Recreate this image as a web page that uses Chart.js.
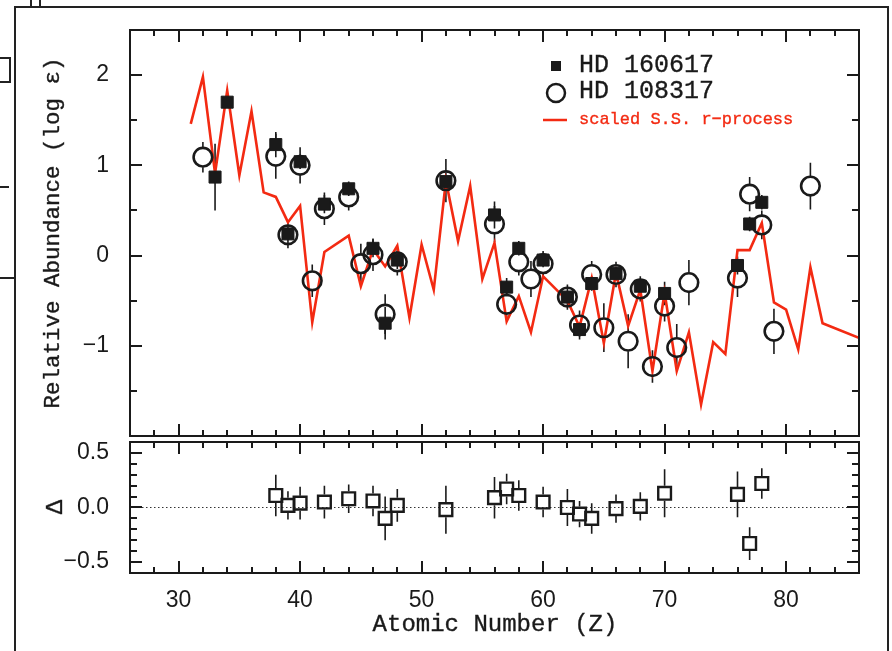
<!DOCTYPE html>
<html>
<head>
<meta charset="utf-8">
<script src="https://cdn.jsdelivr.net/npm/chart.js@4"></script>
<style>
body { margin: 0; background: #fff; width: 892px; height: 651px; overflow: hidden; position: relative; }
.frame { position: absolute; left: 14px; top: 6px; width: 871px; height: 660px; border: 2px solid #222; border-bottom: none; }
.mark { position: absolute; background: #222; }
canvas { position: absolute; left: 0; }
#top { top: 0; }
#bot { top: 440px; }
</style>
</head>
<body>
<div class="frame"></div>
<div class="mark" style="left:30px;top:0;width:2px;height:7px"></div>
<div class="mark" style="left:39px;top:0;width:2px;height:7px"></div>
<div class="mark" style="left:9px;top:57px;width:2px;height:26px"></div>
<div class="mark" style="left:0;top:57px;width:10px;height:2px"></div>
<div class="mark" style="left:0;top:81px;width:10px;height:2px"></div>
<div class="mark" style="left:0;top:186px;width:9px;height:2px"></div>
<div class="mark" style="left:0;top:277px;width:15px;height:2px"></div>
<canvas id="top" width="892" height="440"></canvas>
<canvas id="bot" width="892" height="211"></canvas>
<script>
// scaled solar-system r-process
const ssZ = [31, 32, 33, 34, 35, 36, 37, 38, 39, 40, 41, 42, 44, 45, 46, 47, 48, 49, 50, 51, 52, 53, 54, 55, 56, 57, 58, 59, 60, 62, 63, 64, 65, 66, 67, 68, 69, 70, 71, 72, 73, 74, 75, 76, 77, 78, 79, 80, 81, 82, 83, 90]
const ssLog = [1.46, 1.98, 0.91, 1.83, 0.89, 1.60, 0.70, 0.65, 0.37, 0.55, -0.74, 0.04, 0.22, -0.34, 0.07, -0.12, 0.11, -0.69, 0.12, -0.38, 0.83, 0.16, 0.77, -0.26, 0.14, -0.73, -0.45, -0.85, -0.23, -0.50, -0.79, -0.25, -0.97, -0.19, -0.78, -0.38, -1.28, -0.41, -1.28, -0.85, -1.65, -0.96, -1.09, 0.06, 0.06, 0.36, -0.52, -0.60, -1.04, -0.13, -0.75, -1.13]

// HD 160617
const aZ = [33, 34, 38, 39, 40, 42, 44, 46, 47, 48, 52, 56, 57, 58, 60, 62, 63, 64, 66, 68, 70, 76, 77, 78]
const aLog = [0.87, 1.70, 1.23, 0.24, 1.04, 0.57, 0.74, 0.08, -0.75, -0.05, 0.82, 0.45, -0.35, 0.08, -0.05, -0.46, -0.82, -0.31, -0.20, -0.34, -0.42, -0.11, 0.35, 0.59]
const aErr = [0.37, 0.05, 0.14, 0.10, 0.08, 0.10, 0.08, 0.10, 0.18, 0.10, 0.10, 0.15, 0.10, 0.08, 0.08, 0.10, 0.08, 0.08, 0.08, 0.08, 0.13, 0.10, 0.08, 0.08]

// HD 108317
const bZ = [32, 38, 39, 40, 41, 42, 44, 45, 46, 47, 48, 52, 56, 57, 58, 59, 60, 62, 63, 64, 65, 66, 67, 68, 69, 70, 71, 72, 76, 77, 78, 79, 82]
const bLog = [1.09, 1.10, 0.23, 1.00, -0.28, 0.52, 0.65, -0.09, 0.01, -0.65, -0.07, 0.83, 0.35, -0.54, -0.07, -0.26, -0.09, -0.46, -0.77, -0.21, -0.80, -0.21, -0.95, -0.37, -1.23, -0.56, -1.02, -0.30, -0.25, 0.68, 0.34, -0.84, 0.77]
const bErr = [0.17, 0.25, 0.15, 0.20, 0.18, 0.18, 0.15, 0.22, 0.18, 0.22, 0.15, 0.24, 0.20, 0.15, 0.15, 0.20, 0.14, 0.14, 0.16, 0.15, 0.27, 0.14, 0.30, 0.14, 0.18, 0.17, 0.26, 0.25, 0.21, 0.19, 0.16, 0.25, 0.26]

// difference panel
const dZ = [38, 39, 40, 42, 44, 46, 47, 48, 52, 56, 57, 58, 60, 62, 63, 64, 66, 68, 70, 76, 77, 78]
const dVal = [0.11, 0.02, 0.04, 0.05, 0.08, 0.06, -0.10, 0.02, -0.02, 0.09, 0.17, 0.11, 0.05, 0.00, -0.06, -0.10, -0.01, 0.01, 0.13, 0.12, -0.33, 0.22]
const dErr = [0.19, 0.13, 0.15, 0.15, 0.13, 0.14, 0.20, 0.15, 0.22, 0.19, 0.14, 0.14, 0.14, 0.17, 0.12, 0.14, 0.13, 0.13, 0.22, 0.21, 0.15, 0.14]

const xTicks = [30, 40, 50, 60, 70, 80]
const yTopTicks = [-1, 0, 1, 2]
const yBotTicks = [-0.5, 0, 0.5]

const RED = "#f32a12"
const INK = "#1a1a1a"
const MONO = '"Liberation Mono", monospace'

Chart.defaults.font.family = '"Liberation Sans", Arial, sans-serif'
Chart.defaults.color = INK

const pts = (xs, ys) => xs.map((x, i) => ({ x: x, y: ys[i] }))
const minus = (s) => String(s).replace("-", "\u2212")

// mono text drawn a little heavier
function heavyText(ctx, s, x, y, color) {
  ctx.fillStyle = color
  ctx.strokeStyle = color
  ctx.lineWidth = 0.35
  ctx.fillText(s, x, y)
  ctx.strokeText(s, x, y)
}

// vertical error bars, left open inside the marker
const errorBars = {
  id: "errorBars",
  beforeDatasetsDraw(chart) {
    const ctx = chart.ctx
    const ys = chart.scales.y
    chart.data.datasets.forEach((ds, i) => {
      if (!ds.errors) return
      const meta = chart.getDatasetMeta(i)
      ctx.save()
      ctx.strokeStyle = INK
      ctx.lineWidth = 1.6
      ctx.beginPath()
      meta.data.forEach((el, j) => {
        const v = ds.data[j].y
        const t = ys.getPixelForValue(v + ds.errors[j])
        const b = ys.getPixelForValue(v - ds.errors[j])
        const g = ds.barGap || 0
        if (t < el.y - g) { ctx.moveTo(el.x, t); ctx.lineTo(el.x, el.y - g) }
        if (b > el.y + g) { ctx.moveTo(el.x, el.y + g); ctx.lineTo(el.x, b) }
      })
      ctx.stroke()
      ctx.restore()
    })
  },
}

// box around the plot with inward ticks on all four sides
const frameTicks = {
  id: "frameTicks",
  afterDraw(chart, args, o) {
    const { ctx, chartArea: a } = chart
    const x = chart.scales.x
    const y = chart.scales.y
    const isMul = (v, s) => Math.abs(v / s - Math.round(v / s)) < 1e-6
    ctx.save()
    ctx.strokeStyle = INK
    ctx.lineWidth = 2
    ctx.beginPath()
    const nx = Math.round((o.xMax - o.xMin) / o.xMinor)
    for (let i = 1; i < nx; i++) {
      const v = o.xMin + i * o.xMinor
      const p = Math.round(x.getPixelForValue(v))
      const len = isMul(v, o.xMajor) ? 12 : 6
      ctx.moveTo(p, a.bottom); ctx.lineTo(p, a.bottom - len)
      ctx.moveTo(p, a.top); ctx.lineTo(p, a.top + len)
    }
    const ny = Math.round((o.yMax - o.yMin) / o.yMinor)
    for (let i = 1; i < ny; i++) {
      const v = o.yMin + i * o.yMinor
      const p = Math.round(y.getPixelForValue(v))
      const len = isMul(v, o.yMajor) ? 12 : 7
      ctx.moveTo(a.left, p); ctx.lineTo(a.left + len, p)
      ctx.moveTo(a.right, p); ctx.lineTo(a.right - len, p)
    }
    ctx.stroke()
    ctx.strokeRect(a.left, a.top, a.right - a.left, a.bottom - a.top)
    ctx.restore()
  },
}

const topText = {
  id: "topText",
  afterDraw(chart) {
    const ctx = chart.ctx
    ctx.save()
    ctx.font = "22.5px " + MONO
    ctx.textAlign = "center"
    ctx.textBaseline = "middle"
    ctx.translate(53, 233)
    ctx.rotate(-Math.PI / 2)
    heavyText(ctx, "Relative Abundance (log \u03b5)", 0, 0, INK)
    ctx.restore()

    // legend
    ctx.save()
    ctx.fillStyle = INK
    ctx.fillRect(551, 61, 10, 10)
    ctx.lineWidth = 2.5
    ctx.strokeStyle = INK
    ctx.beginPath()
    ctx.arc(556, 93, 9, 0, Math.PI * 2)
    ctx.stroke()
    ctx.strokeStyle = RED
    ctx.beginPath()
    ctx.moveTo(543, 120); ctx.lineTo(567, 120)
    ctx.stroke()
    ctx.textAlign = "left"
    ctx.textBaseline = "alphabetic"
    ctx.font = "25px " + MONO
    heavyText(ctx, "HD 160617", 579, 72, INK)
    heavyText(ctx, "HD 108317", 579, 98, INK)
    ctx.font = "17px " + MONO
    heavyText(ctx, "scaled S.S. r\u2212process", 579, 124, RED)
    ctx.restore()
  },
}

const botText = {
  id: "botText",
  beforeDatasetsDraw(chart) {
    const { ctx, chartArea: a } = chart
    const p = chart.scales.y.getPixelForValue(0)
    ctx.save()
    ctx.strokeStyle = "#333"
    ctx.lineWidth = 1.2
    ctx.setLineDash([1.5, 2.5])
    ctx.beginPath()
    ctx.moveTo(a.left, p); ctx.lineTo(a.right, p)
    ctx.stroke()
    ctx.restore()
  },
  afterDraw(chart) {
    const ctx = chart.ctx
    ctx.save()
    ctx.textAlign = "center"
    ctx.textBaseline = "alphabetic"
    ctx.font = "24px " + MONO
    heavyText(ctx, "Atomic Number (Z)", 495, 191, INK)
    ctx.textBaseline = "middle"
    ctx.translate(56, 67)
    ctx.rotate(-Math.PI / 2)
    heavyText(ctx, "\u0394", 0, 0, INK)
    ctx.restore()
  },
}

const fixLeft = (axis) => { axis.width = 130; axis.paddingTop = 0; axis.paddingBottom = 0 }
const tickFont = { size: 23 }

new Chart(document.getElementById("top"), {
  type: "scatter",
  data: {
    datasets: [
      {
        label: "HD 160617",
        data: pts(aZ, aLog),
        errors: aErr,
        barGap: 0,
        pointStyle: "rect",
        pointRadius: 8.5,
        backgroundColor: INK,
        borderColor: INK,
        borderWidth: 1,
      },
      {
        label: "HD 108317",
        data: pts(bZ, bLog),
        errors: bErr,
        barGap: 10,
        pointStyle: "circle",
        pointRadius: 9.3,
        backgroundColor: "rgba(0,0,0,0)",
        borderColor: INK,
        borderWidth: 2.6,
      },
      {
        label: "scaled S.S. r-process",
        data: pts(ssZ, ssLog),
        showLine: true,
        pointRadius: 0,
        borderColor: RED,
        borderWidth: 2.6,
        tension: 0,
      },
    ],
  },
  options: {
    responsive: false,
    animation: false,
    events: [],
    layout: { autoPadding: false, padding: { left: 0, right: 33, top: 30, bottom: 4 } },
    scales: {
      x: { type: "linear", min: 26, max: 86, display: false },
      y: {
        type: "linear",
        min: -2,
        max: 2.5,
        grid: { display: false },
        border: { display: false },
        afterBuildTicks: (axis) => { axis.ticks = yTopTicks.map((v) => ({ value: v })) },
        afterFit: fixLeft,
        ticks: { font: tickFont, padding: 13, callback: (v) => minus(v) },
      },
    },
    plugins: {
      legend: { display: false },
      tooltip: { enabled: false },
      frameTicks: { xMin: 26, xMax: 86, xMinor: 2, xMajor: 10, yMin: -2, yMax: 2.5, yMinor: 0.5, yMajor: 1 },
    },
  },
  plugins: [errorBars, frameTicks, topText],
})

new Chart(document.getElementById("bot"), {
  type: "scatter",
  data: {
    datasets: [
      {
        label: "difference",
        data: pts(dZ, dVal),
        errors: dErr,
        barGap: 7.5,
        pointStyle: "rect",
        pointRadius: 9,
        backgroundColor: "rgba(0,0,0,0)",
        borderColor: INK,
        borderWidth: 2.4,
      },
    ],
  },
  options: {
    responsive: false,
    animation: false,
    events: [],
    layout: { autoPadding: false, padding: { left: 0, right: 33, top: 2, bottom: 0 } },
    scales: {
      x: {
        type: "linear",
        min: 26,
        max: 86,
        grid: { display: false },
        border: { display: false },
        afterBuildTicks: (axis) => { axis.ticks = xTicks.map((v) => ({ value: v })) },
        afterFit: (axis) => { axis.height = 78; axis.paddingLeft = 0; axis.paddingRight = 0 },
        ticks: { font: tickFont, padding: 6, maxRotation: 0, autoSkip: false },
      },
      y: {
        type: "linear",
        min: -0.6,
        max: 0.6,
        grid: { display: false },
        border: { display: false },
        afterBuildTicks: (axis) => { axis.ticks = yBotTicks.map((v) => ({ value: v })) },
        afterFit: fixLeft,
        ticks: { font: tickFont, padding: 13, callback: (v) => minus(v.toFixed(1)) },
      },
    },
    plugins: {
      legend: { display: false },
      tooltip: { enabled: false },
      frameTicks: { xMin: 26, xMax: 86, xMinor: 2, xMajor: 10, yMin: -0.6, yMax: 0.6, yMinor: 0.1, yMajor: 0.5 },
    },
  },
  plugins: [errorBars, frameTicks, botText],
})
</script>
</body>
</html>
